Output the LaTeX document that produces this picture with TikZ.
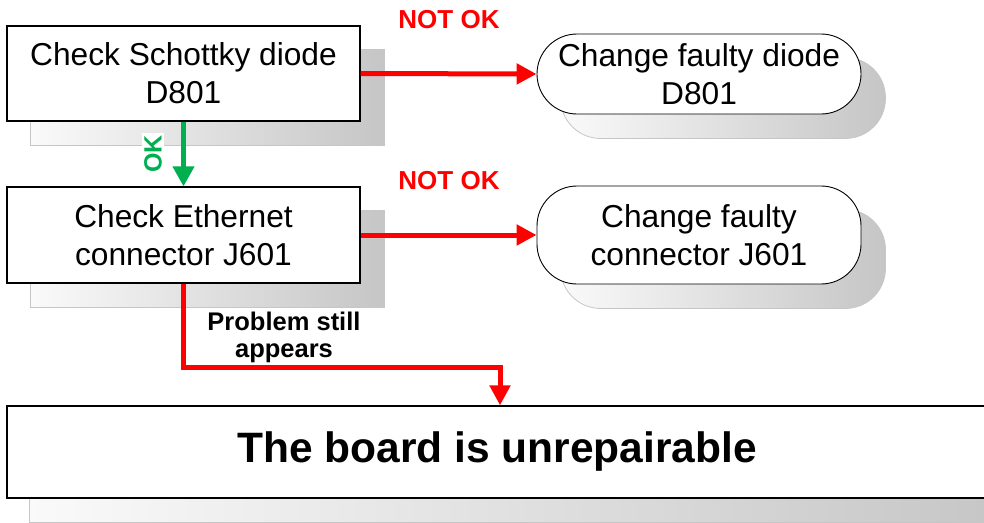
\documentclass[tikz,border=0pt]{standalone}
\usepackage{fontspec}
\setmainfont{Liberation Sans}
\usetikzlibrary{arrows.meta,backgrounds}
\definecolor{okgreen}{HTML}{00B050}
\definecolor{notred}{HTML}{FF0000}
\tikzset{
  boxtext/.style={font=\fontsize{31.7}{38}\selectfont, align=center},
  sqbox/.style={draw=black, line width=1.3pt, fill=white, inner sep=0pt, boxtext},
  rdbox/.style={draw=black, line width=0.9pt, fill=white, inner sep=0pt, rounded corners=40pt, boxtext},
  shadowbox/.style={left color=gray!4, right color=gray!45, draw=gray!45, line width=0.8pt},
  redarrow/.style={draw=notred, line width=5pt, -{Triangle[length=20pt,width=20pt]}},
  greenarrow/.style={draw=okgreen, line width=4.5pt, -{Triangle[length=20pt,width=21pt]}},
  notok/.style={text=notred, font=\bfseries\fontsize{26}{30}\selectfont},
  problem/.style={font=\bfseries\fontsize{25.5}{27}\selectfont, align=center, inner sep=0pt},
  oklabel/.style={text=okgreen, font=\bfseries\fontsize{25}{28}\selectfont, fill=white, inner sep=2pt, rotate=90}
}
\begin{document}
\begin{tikzpicture}[x=1pt,y=-1pt]
\useasboundingbox (0,0) rectangle (984,522);
\node[sqbox, minimum width=353pt, minimum height=95pt] (b1) at (183.5,73.5) {Check Schottky diode\\D801};
\node[sqbox, minimum width=353pt, minimum height=96pt] (b2) at (183.5,235) {Check Ethernet\\connector J601};
\node[rdbox, minimum width=324pt, minimum height=80pt] (r1) at (699,74) {Change faulty diode\\D801};
\node[rdbox, minimum width=324pt, minimum height=98pt] (r2) at (699,235) {Change faulty\\connector J601};
\node[sqbox, minimum width=980pt, minimum height=92pt, font=\bfseries\fontsize{42.5}{50}\selectfont] (bot) at (497,452) {The board is unrepairable};
\begin{scope}[on background layer]
  \path[shadowbox] ([shift={(24,24)}]b1.north west) rectangle ([shift={(24,24)}]b1.south east);
  \path[shadowbox] ([shift={(24,24)}]b2.north west) rectangle ([shift={(24,24)}]b2.south east);
  \path[shadowbox, rounded corners=40pt] ([shift={(24,24)}]r1.north west) rectangle ([shift={(24,24)}]r1.south east);
  \path[shadowbox, rounded corners=40pt] ([shift={(24,24)}]r2.north west) rectangle ([shift={(24,24)}]r2.south east);
  \path[shadowbox] ([shift={(23,24)}]bot.north west) rectangle ([shift={(23,24)}]bot.south east);
\end{scope}
\draw[redarrow] (b1.east) -- (r1.west);
\draw[redarrow] (b2.east) -- (r2.west);
\draw[greenarrow] (b1.south) -- (b2.north);
\coordinate (bend) at (500,367);
\draw[redarrow] (b2.south) |- (bend) -- (bend |- bot.north);
\node[notok] (n1) at (449,20) {NOT OK};
\node[notok] (n2) at (449,181) {NOT OK};
\node[problem] (pr) at (284,337) {Problem still\\appears};
\node[oklabel] (ok) at (153,154) {OK};
\end{tikzpicture}
\end{document}
